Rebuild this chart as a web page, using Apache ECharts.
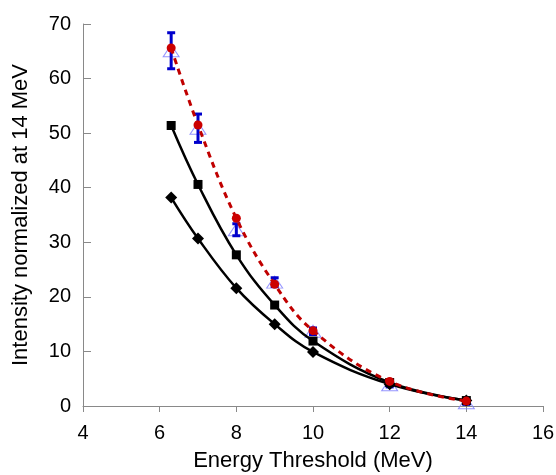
<!DOCTYPE html>
<html>
<head>
<meta charset="utf-8">
<script src="https://cdn.jsdelivr.net/npm/echarts@6/dist/echarts.min.js"></script>
<style>html,body{margin:0;padding:0;background:#fff}#c{width:556px;height:475px}</style>
</head>
<body>
<div id="c"></div>
<script>
const xThresholds = [6.3, 7, 8, 9, 10, 12, 14];
const diamondSeries = [38.2, 30.7, 21.6, 15.0, 9.9, 4.0, 1.0];
const squareSeries = [51.4, 40.6, 27.7, 18.5, 11.9, 4.3, 1.0];
const circleSeries = [65.6, 51.5, 34.4, 22.3, 13.8, 4.5, 0.9];
const triangleSeries = [65.1, 50.9, 32.3, 22.7, 13.7, 3.9, 0.6];
const triangleErr = [3.3, 2.6, 1.1, 0.8, 0.6, 0.4, 0.3];
const xTicks = {min: 4, max: 16, interval: 2};
const yTicks = {min: 0, max: 70, interval: 10};

const pair = arr => xThresholds.map((x, i) => [x, arr[i]]);
const errData = xThresholds.map((x, i) => [x, triangleSeries[i] - triangleErr[i], triangleSeries[i] + triangleErr[i]]);

const font = '"Liberation Sans", Arial, sans-serif';
const axisGray = '#898989';
const chart = echarts.init(document.getElementById('c'));
chart.setOption({
  animation: false,
  grid: {left: 83, right: 13, top: 24, bottom: 69, outerBoundsMode: 'none'},
  xAxis: {
    type: 'value', min: xTicks.min, max: xTicks.max, interval: xTicks.interval,
    name: 'Energy Threshold (MeV)', nameLocation: 'middle', nameGap: 44,
    nameTextStyle: {fontSize: 22, color: '#000', fontFamily: font},
    axisLine: {onZero: false, lineStyle: {color: axisGray, width: 1}},
    axisTick: {show: true, inside: false, length: 6, lineStyle: {color: axisGray}},
    axisLabel: {fontSize: 20, color: '#000', fontFamily: font, margin: 17},
    splitLine: {show: false}
  },
  yAxis: {
    type: 'value', min: yTicks.min, max: yTicks.max, interval: yTicks.interval,
    name: 'Intensity normalized at 14 MeV', nameLocation: 'middle', nameGap: 51,
    nameTextStyle: {fontSize: 22, color: '#000', fontFamily: font, padding: [0, 0, 0, 0]},
    axisLine: {show: true, onZero: false, lineStyle: {color: axisGray, width: 1}},
    axisTick: {show: true, inside: true, length: 8, lineStyle: {color: axisGray}},
    axisLabel: {fontSize: 20, color: '#000', fontFamily: font, margin: 12},
    splitLine: {show: false}
  },
  series: [
    {
      type: 'scatter', data: pair(triangleSeries), symbol: 'triangle', symbolSize: [16, 12], z: 1,
      itemStyle: {color: 'rgba(255,255,255,0)', borderColor: '#7a7aff', borderWidth: 1}
    },
    {
      type: 'custom', data: errData, z: 2,
      encode: {x: 0, y: [1, 2]},
      renderItem: function (params, api) {
        const x = api.value(0);
        const lo = api.coord([x, api.value(1)]);
        const hi = api.coord([x, api.value(2)]);
        const st = {stroke: '#0000cc', lineWidth: 3};
        const w = 4;
        return {type: 'group', children: [
          {type: 'line', shape: {x1: lo[0], y1: lo[1], x2: hi[0], y2: hi[1]}, style: st},
          {type: 'line', shape: {x1: lo[0] - w, y1: lo[1], x2: lo[0] + w, y2: lo[1]}, style: st},
          {type: 'line', shape: {x1: hi[0] - w, y1: hi[1], x2: hi[0] + w, y2: hi[1]}, style: st}
        ]};
      }
    },
    {
      type: 'line', data: pair(diamondSeries), smooth: 0.4, symbol: 'diamond', symbolSize: 12, z: 3,
      lineStyle: {color: '#000', width: 2.5}, itemStyle: {color: '#000'}
    },
    {
      type: 'line', data: pair(squareSeries), smooth: 0.4, symbol: 'rect', symbolSize: 9, z: 3,
      lineStyle: {color: '#000', width: 2.5}, itemStyle: {color: '#000'}
    },
    {
      type: 'line', data: pair(circleSeries), smooth: 0.4, symbol: 'circle', symbolSize: 9, z: 4,
      lineStyle: {color: '#c00000', width: 3, type: [6, 5]}, itemStyle: {color: '#cc0000'}
    }
  ]
});
</script>
</body>
</html>
